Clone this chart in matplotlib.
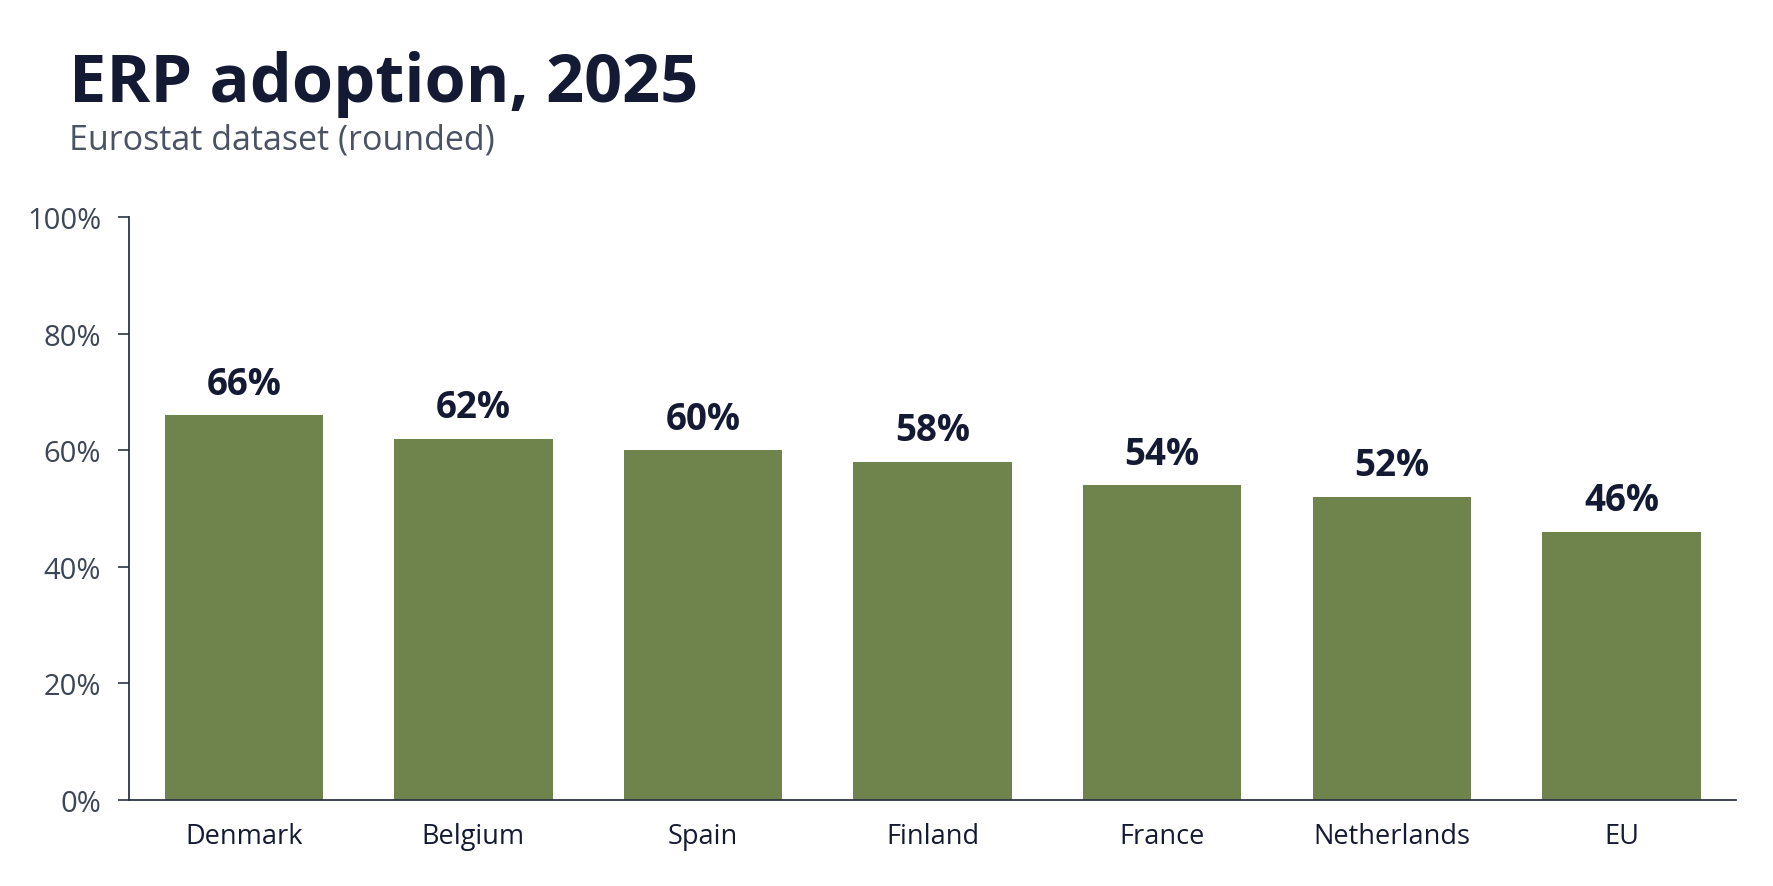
import matplotlib
matplotlib.use("Agg")
import matplotlib.pyplot as plt
from matplotlib.ticker import FuncFormatter

plt.rcParams['font.family'] = ['Open Sans', 'DejaVu Sans']

# --- data ---
countries = ["Denmark", "Belgium", "Spain", "Finland", "France", "Netherlands", "EU"]
adoption = [66, 62, 60, 58, 54, 52, 46]
y_ticks = [0, 20, 40, 60, 80, 100]

bar_color = '#6e844c'
dark = '#141a33'
grey = '#3d4656'

fig = plt.figure(figsize=(17.74, 8.87), dpi=100)
ax = fig.add_axes([0.0727, 0.097, 0.906, 0.657])

ax.bar(range(len(countries)), adoption, width=0.69, color=bar_color, zorder=2)

# value labels above bars
for i, v in enumerate(adoption):
    ax.annotate(f'{v}%', (i, v), xytext=(0, 9), textcoords='offset points',
                ha='center', va='bottom', fontsize=26.5, fontweight='bold', color=dark)

ax.set_xlim(-0.5, len(countries) - 0.5)
ax.set_ylim(0, 100)
ax.set_yticks(y_ticks)
ax.yaxis.set_major_formatter(FuncFormatter(lambda v, p: f'{v:.0f}%'))
ax.set_xticks(range(len(countries)))
ax.set_xticklabels(countries)

for s in ['top', 'right']:
    ax.spines[s].set_visible(False)
for s in ['left', 'bottom']:
    ax.spines[s].set_color('#2d3443')
    ax.spines[s].set_linewidth(1.3)

ax.tick_params(axis='y', length=8, width=1.2, color='#2d3443', labelsize=21,
               labelcolor=grey, pad=12)
ax.tick_params(axis='x', length=0, labelsize=19.5, labelcolor=dark, pad=16)

# title + subtitle
fig.text(0.039, 0.885, 'ERP adoption, 2025', fontsize=48, fontweight='bold',
         color=dark, ha='left', va='baseline')
fig.text(0.039, 0.831, 'Eurostat dataset (rounded)', fontsize=24.5,
         color='#4a5263', ha='left', va='baseline')

fig.savefig('out.png', dpi=100)
